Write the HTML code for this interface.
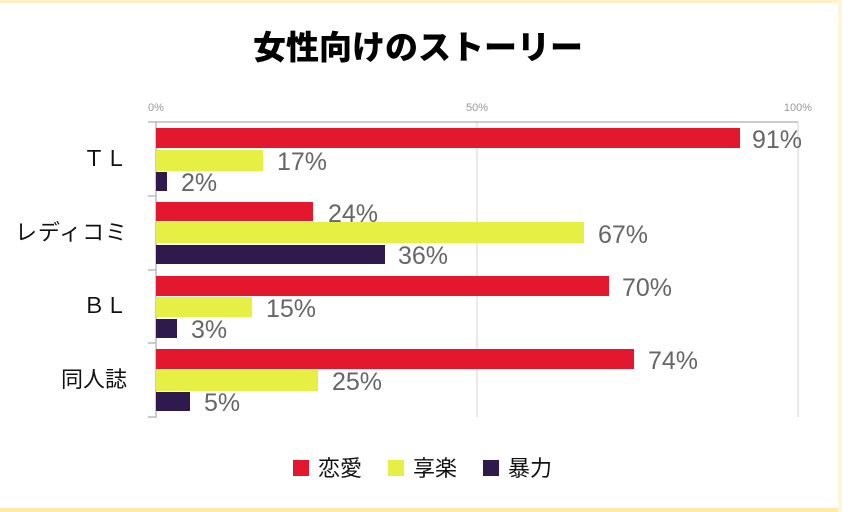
<!DOCTYPE html>
<html><head><meta charset="utf-8"><style>
body{margin:0;background:#fff}
svg{display:block}
text{font-family:"Liberation Sans","Noto Sans CJK JP",sans-serif}
</style></head><body>
<svg width="842" height="512" viewBox="0 0 842 512" xmlns="http://www.w3.org/2000/svg">
<rect x="0" y="0" width="842" height="512" fill="#fff"/>
<rect x="0" y="0" width="842" height="3" fill="#fdf0c8"/>
<rect x="0" y="508" width="842" height="4" fill="#fde9a8"/>
<rect x="838" y="0" width="4" height="512" fill="#fdf6dc"/>
<text x="418" y="59" font-size="33" font-weight="bold" text-anchor="middle" fill="#000" style="font-family:'Noto Sans CJK JP',sans-serif;font-weight:900">女性向けのストーリー</text>
<g fill="#999" font-size="11">
<text x="156" y="111" text-anchor="middle">0%</text>
<text x="477" y="111" text-anchor="middle">50%</text>
<text x="798" y="111" text-anchor="middle">100%</text>
</g>
<line x1="477" y1="122" x2="477" y2="417" stroke="#e2e2e2" stroke-width="1.5"/>
<line x1="798" y1="122" x2="798" y2="417" stroke="#e2e2e2" stroke-width="1.5"/>
<line x1="156" y1="122" x2="798" y2="122" stroke="#bbb" stroke-width="1.5"/>
<line x1="156" y1="121" x2="156" y2="418" stroke="#bbb" stroke-width="1.5"/>
<g stroke="#bbb" stroke-width="1.5">
<line x1="148" y1="122" x2="156" y2="122"/><line x1="148" y1="196" x2="156" y2="196"/>
<line x1="148" y1="270" x2="156" y2="270"/><line x1="148" y1="343" x2="156" y2="343"/>
<line x1="148" y1="417" x2="156" y2="417"/>
</g>
<g font-size="22" fill="#111" text-anchor="end">
<text x="127" y="166">ＴＬ</text>
<text x="127" y="240" textLength="112">レディコミ</text>
<text x="127" y="313">ＢＬ</text>
<text x="127" y="387">同人誌</text>
</g>
<g>
<rect x="156" y="128" width="584" height="20" fill="#e3172d"/>
<rect x="156" y="150" width="107" height="21" fill="#e5ef44"/>
<rect x="156" y="172" width="11" height="19" fill="#2e1a4d"/>
<rect x="156" y="202" width="157" height="19" fill="#e3172d"/>
<rect x="156" y="222" width="428" height="21" fill="#e5ef44"/>
<rect x="156" y="245" width="229" height="19" fill="#2e1a4d"/>
<rect x="156" y="276" width="453" height="20" fill="#e3172d"/>
<rect x="156" y="297" width="96" height="20" fill="#e5ef44"/>
<rect x="156" y="319" width="21" height="19" fill="#2e1a4d"/>
<rect x="156" y="349" width="478" height="20" fill="#e3172d"/>
<rect x="156" y="370" width="162" height="21" fill="#e5ef44"/>
<rect x="156" y="392" width="34" height="19" fill="#2e1a4d"/>
</g>
<g font-size="25" fill="#666">
<text x="752" y="148">91%</text>
<text x="277" y="170">17%</text>
<text x="181" y="191">2%</text>
<text x="328" y="222">24%</text>
<text x="598" y="243">67%</text>
<text x="398" y="264">36%</text>
<text x="622" y="296">70%</text>
<text x="266" y="317">15%</text>
<text x="191" y="338">3%</text>
<text x="648" y="369">74%</text>
<text x="332" y="390">25%</text>
<text x="204" y="411">5%</text>
</g>
<rect x="293" y="460" width="16" height="16" fill="#e3172d"/>
<rect x="388" y="460" width="16" height="16" fill="#e5ef44"/>
<rect x="483" y="460" width="16" height="16" fill="#2e1a4d"/>
<g font-size="22" fill="#111">
<text x="318" y="476">恋愛</text>
<text x="413" y="476">享楽</text>
<text x="508" y="476">暴力</text>
</g>
</svg>
</body></html>
